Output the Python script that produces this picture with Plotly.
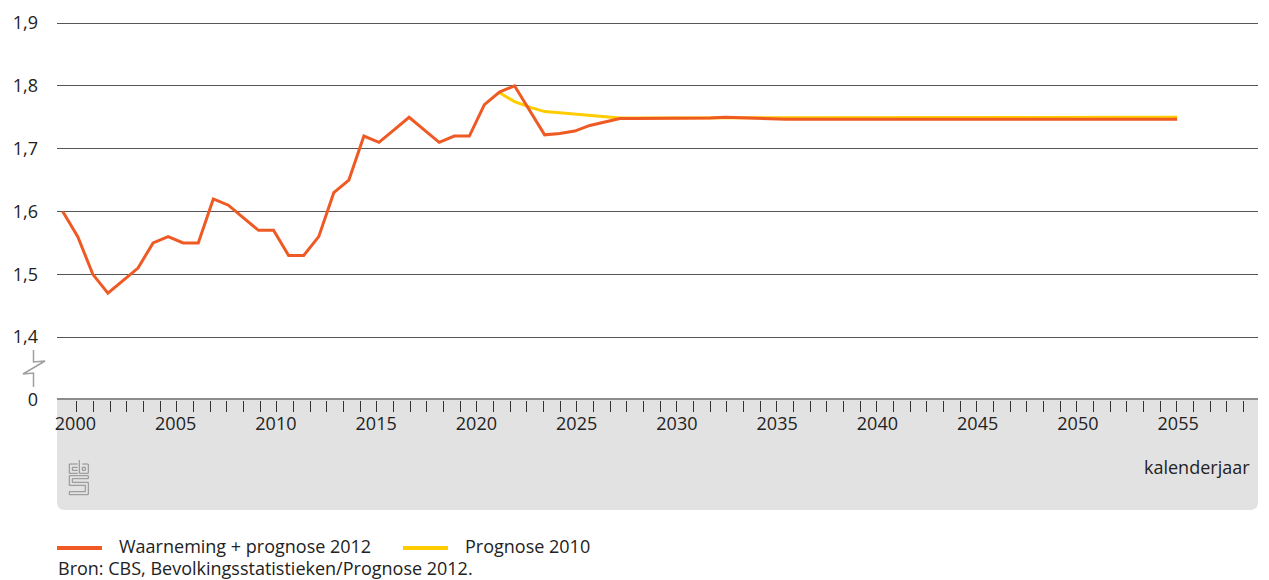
import plotly.graph_objects as go

# ---------------- data ----------------
years_2012 = list(range(1980, 2055))
tfr_2012 = [1.60, 1.56, 1.50, 1.47, 1.49, 1.51, 1.55, 1.56, 1.55, 1.55,
            1.62, 1.61, 1.59, 1.57, 1.57, 1.53, 1.53, 1.56, 1.63, 1.65,
            1.72, 1.71, 1.73, 1.75, 1.73, 1.71, 1.72, 1.72, 1.77, 1.79,
            1.80, 1.76, 1.722, 1.724, 1.728, 1.737, 1.742, 1.748, 1.748, 1.748,
            1.749, 1.749, 1.748, 1.749, 1.750, 1.749, 1.748, 1.748, 1.747, 1.747,
            1.747, 1.747, 1.747, 1.747, 1.747, 1.747, 1.747, 1.747, 1.747, 1.747,
            1.747, 1.747, 1.747, 1.747, 1.747, 1.747, 1.747, 1.747, 1.747, 1.747,
            1.747, 1.747, 1.747, 1.747, 1.747]

years_2010 = list(range(2009, 2055))
tfr_2010 = [1.789, 1.775, 1.766, 1.759, 1.757, 1.755, 1.752, 1.750, 1.749, 1.749,
            1.749, 1.750, 1.750, 1.750, 1.750, 1.750, 1.750, 1.750, 1.750, 1.750,
            1.750, 1.750, 1.750, 1.750, 1.750, 1.750, 1.750, 1.750, 1.750, 1.750,
            1.750, 1.750, 1.750, 1.750, 1.750, 1.750, 1.750, 1.750, 1.750, 1.750,
            1.750, 1.750, 1.750, 1.750, 1.750, 1.750]

x_labels = ["2000", "2005", "2010", "2015", "2020", "2025",
            "2030", "2035", "2040", "2045", "2050", "2055"]
y_ticks = [1.3, 1.4, 1.5, 1.6, 1.7, 1.8, 1.9]
y_labels = ["0", "1,4", "1,5", "1,6", "1,7", "1,8", "1,9"]

name_2012 = "Waarneming + prognose 2012"
name_2010 = "Prognose 2010"
source = "Bron: CBS, Bevolkingsstatistieken/Prognose 2012."

# ---------------- layout geometry (page pixels) ----------------
PAGE_W, PAGE_H = 1269, 580
BODY = 8                              # default page margin around the figure
W_FIG, H_FIG = PAGE_W - BODY, PAGE_H - BODY
L, R, T, B = 57, 1258, 21, 400        # plot area in page pixels
PW, PH = R - L, B - T
X0, X1 = 1979.62, 2059.37             # axis range (data years)
PX_PER_UNIT = (400 - 23) / 0.6        # 1.3 at y=400, 1.9 at y=23
Y0, Y1 = 1.3, 1.3 + PH / PX_PER_UNIT

def px(x):
    return (x - L) / PW

def py(y):
    return (B - y) / PH

label_pos = [1980.84 + 6.657 * k for k in range(len(x_labels))]
minor_pos = [1980.93 + 1.1069 * j for j in range(71)]

ORANGE = "#EF5A24"
YELLOW = "#FFCC00"
FONT = "Open Sans"
TXT = "#222222"
FS = 18

fig = go.Figure()
fig.add_trace(go.Scatter(x=years_2010, y=tfr_2010, mode="lines", name=name_2010,
                         line=dict(color=YELLOW, width=3), showlegend=False,
                         hoverinfo="skip"))
fig.add_trace(go.Scatter(x=years_2012, y=tfr_2012, mode="lines", name=name_2012,
                         line=dict(color=ORANGE, width=3), showlegend=False,
                         hoverinfo="skip"))

shapes = []
r = 8
band = (f"M {px(L)},{py(400)} L {px(R)},{py(400)} L {px(R)},{py(510 - r)} "
        f"Q {px(R)},{py(510)} {px(R - r)},{py(510)} L {px(L + r)},{py(510)} "
        f"Q {px(L)},{py(510)} {px(L)},{py(510 - r)} Z")
shapes.append(dict(type="path", xref="paper", yref="paper", path=band,
                   fillcolor="#E2E2E3", line=dict(width=0), layer="below"))
shapes.append(dict(type="line", xref="paper", yref="y", x0=0, x1=1, y0=1.3, y1=1.3,
                   line=dict(color="#8C8C8C", width=4), layer="above"))
brk = [(33.5, 350), (33.5, 362), (45, 361), (23, 374), (33.5, 373), (33.5, 387)]
brk_path = "M " + " L ".join(f"{px(a)},{py(b)}" for a, b in brk)
shapes.append(dict(type="path", xref="paper", yref="paper", path=brk_path,
                   line=dict(color="#A0A0A0", width=1.5)))

def poly(points, closed=False):
    s = "M " + " L ".join(f"{px(a)},{py(b)}" for a, b in points)
    return s + (" Z" if closed else "")

logo_paths = [
    poly([(77.7, 464), (69.3, 464), (69.3, 473.3), (77.7, 473.3)]),
    poly([(77.7, 467.3), (72.3, 467.3), (72.3, 470.3), (77.7, 470.3)]),
    poly([(79.3, 460), (79.3, 473.3), (88.3, 473.3), (88.3, 464), (82.3, 464)]),
    poly([(82.3, 467.3), (85.3, 467.3), (85.3, 470.3), (82.3, 470.3)], closed=True),
    poly([(88.3, 475.7), (69.3, 475.7), (69.3, 485.3), (85.3, 485.3), (85.3, 491.7),
          (69.3, 491.7), (69.3, 494.7), (88.3, 494.7), (88.3, 482.3), (72.3, 482.3),
          (72.3, 478.7), (88.3, 478.7)], closed=True),
]
for p in logo_paths:
    shapes.append(dict(type="path", xref="paper", yref="paper", path=p,
                       line=dict(color="#8E8E8E", width=1)))

shapes.append(dict(type="line", xref="paper", yref="paper", x0=px(57), x1=px(102),
                   y0=py(548), y1=py(548), line=dict(color=ORANGE, width=4)))
shapes.append(dict(type="line", xref="paper", yref="paper", x0=px(403), x1=px(448),
                   y0=py(548), y1=py(548), line=dict(color=YELLOW, width=4)))

def note(text, x, y, anchor):
    return dict(text=text, xref="paper", yref="paper", x=px(x), y=py(y),
                xanchor=anchor, yanchor="middle", showarrow=False,
                font=dict(family=FONT, size=FS, color=TXT))

annotations = [
    note("kalenderjaar", 1252, 467, "right"),
    note(name_2012, 117, 546, "left"),
    note(name_2010, 463, 546, "left"),
    note(source, 56, 568, "left"),
]

fig.update_layout(
    width=W_FIG, height=H_FIG,
    margin=dict(l=L - BODY, r=PAGE_W - R, t=T - BODY, b=PAGE_H - B, pad=0,
                autoexpand=False),
    paper_bgcolor="white", plot_bgcolor="white",
    font=dict(family=FONT, size=FS, color=TXT),
    showlegend=False,
    shapes=shapes, annotations=annotations,
    xaxis=dict(range=[X0, X1], showgrid=False, zeroline=False, showline=False,
               automargin=False,
               tickmode="array", tickvals=label_pos, ticktext=x_labels,
               ticks="", ticklabelstandoff=11,
               tickfont=dict(family=FONT, size=FS, color=TXT),
               minor=dict(tickmode="array", tickvals=minor_pos, ticks="outside",
                          ticklen=11, tickwidth=1, tickcolor="#333333",
                          showgrid=False)),
    yaxis=dict(range=[Y0, Y1], tickmode="array", tickvals=y_ticks,
               ticktext=y_labels, showgrid=True, gridcolor="#555555",
               gridwidth=1, zeroline=False, showline=False, ticks="",
               automargin=False, ticklabelstandoff=18,
               tickfont=dict(family=FONT, size=FS, color=TXT)),
)

fig.write_html("out.html")
